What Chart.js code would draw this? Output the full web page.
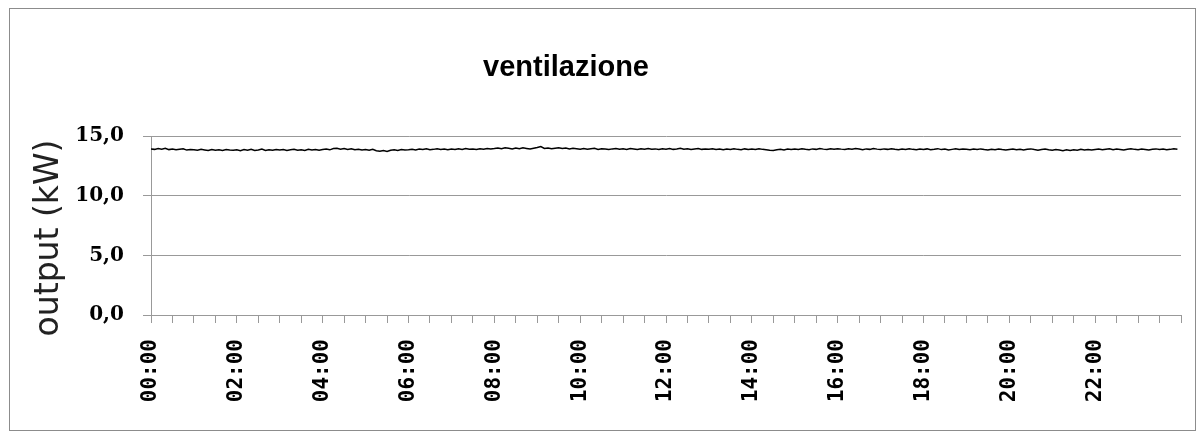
<!DOCTYPE html>
<html>
<head>
<meta charset="utf-8">
<script src="https://cdn.jsdelivr.net/npm/chart.js@4.4.1/dist/chart.umd.min.js"></script>
<style>
  html, body { margin: 0; padding: 0; background: #fff; }
  #wrap { position: relative; width: 1204px; height: 439px; }
  #frame { position: absolute; left: 9px; top: 8px; width: 1185px; height: 421px; border: 1px solid #8c8c8c; pointer-events: none; }
  canvas { position: absolute; left: 0; top: 0; }
</style>
</head>
<body>
<div id="wrap">
  <canvas id="myChart" width="1204" height="439"></canvas>
  <div id="frame"></div>
</div>
<script>
const chartTitle = "ventilazione";
const yTitle = "output (kW)";

// one reading every 5 minutes, one row per hour (kW)
const stepMin = 5;
const output = [
  13.92, 13.88, 13.95, 13.90, 13.97, 13.86, 13.91, 13.84, 13.89, 13.93, 13.82, 13.87,
  13.85, 13.80, 13.88, 13.83, 13.78, 13.86, 13.81, 13.84, 13.79, 13.87, 13.82, 13.80,
  13.84, 13.77, 13.86, 13.81, 13.88, 13.79, 13.83, 13.90, 13.78, 13.85, 13.80, 13.87,
  13.82, 13.86, 13.79, 13.84, 13.89, 13.81, 13.85, 13.78, 13.88, 13.83, 13.87, 13.80,
  13.86, 13.91, 13.84, 13.95, 13.98, 13.90, 13.96, 13.88, 13.93, 13.85, 13.89, 13.82,
  13.86, 13.80, 13.88, 13.76, 13.72, 13.78, 13.70, 13.81, 13.84, 13.79, 13.86, 13.82,
  13.85, 13.89, 13.83, 13.90, 13.86, 13.92, 13.84, 13.88, 13.93, 13.87, 13.91, 13.85,
  13.90, 13.86, 13.93, 13.88, 13.95, 13.89, 13.92, 13.87, 13.94, 13.90, 13.96, 13.91,
  13.95, 14.00, 13.93, 14.02, 13.97, 13.92, 13.99, 13.94, 14.01, 13.96, 13.91, 13.98,
  14.03, 14.12, 13.96, 14.00, 13.93, 13.98, 14.02, 13.95, 13.99, 13.92, 13.97, 13.94,
  13.90, 13.95, 13.89, 13.93, 13.97, 13.88, 13.94, 13.91, 13.86, 13.92, 13.96, 13.90,
  13.93, 13.88, 13.95, 13.91, 13.87, 13.94, 13.90, 13.96, 13.89, 13.92, 13.86, 13.93,
  13.90, 13.95, 13.88, 13.92, 13.97, 13.89, 13.93, 13.86, 13.91, 13.95, 13.88, 13.92,
  13.89, 13.93, 13.86, 13.90, 13.84, 13.91, 13.87, 13.94, 13.88, 13.85, 13.92, 13.87,
  13.90, 13.86, 13.93, 13.88, 13.84, 13.80, 13.78, 13.85, 13.89, 13.83, 13.90, 13.86,
  13.91, 13.87, 13.94, 13.89, 13.85, 13.92, 13.88, 13.95, 13.90, 13.86, 13.93, 13.89,
  13.94, 13.90, 13.87, 13.93, 13.89, 13.96, 13.91, 13.85, 13.92, 13.88, 13.95, 13.90,
  13.86, 13.92, 13.88, 13.94, 13.89, 13.85, 13.91, 13.87, 13.93, 13.88, 13.84, 13.90,
  13.87, 13.92, 13.85, 13.89, 13.94, 13.86, 13.90, 13.83, 13.88, 13.93, 13.86, 13.91,
  13.88, 13.84, 13.90, 13.86, 13.92, 13.87, 13.83, 13.89, 13.85, 13.91, 13.86, 13.82,
  13.87, 13.91, 13.85, 13.89, 13.83, 13.88, 13.92, 13.86, 13.81, 13.87, 13.90, 13.84,
  13.80, 13.86, 13.82, 13.77, 13.84, 13.79, 13.85, 13.81, 13.88, 13.83, 13.87, 13.82,
  13.86, 13.90, 13.84, 13.89, 13.93, 13.85, 13.91, 13.87, 13.83, 13.89, 13.94, 13.88,
  13.85, 13.91, 13.87, 13.83, 13.89, 13.92, 13.86, 13.90, 13.84, 13.88, 13.93, 13.89
];

const xTickLabels = ["00:00", "02:00", "04:00", "06:00", "08:00", "10:00",
                     "12:00", "14:00", "16:00", "18:00", "20:00", "22:00"];
const yTicks = [0, 5, 10, 15];

const gridGray = "#999999";

const points = output.map((v, i) => ({ x: i * stepMin, y: v }));

// title and axis title drawn where the original sits (not centred on the canvas)
const textPlugin = {
  id: "texts",
  afterDraw(chart) {
    const c = chart.ctx;
    c.save();
    c.fillStyle = "#000";
    c.font = "bold 29px 'Liberation Sans', Arial, sans-serif";
    c.textAlign = "center";
    c.textBaseline = "alphabetic";
    c.fillText(chartTitle, 566, 76);

    c.translate(49, 238);
    c.rotate(-Math.PI / 2);
    c.fillStyle = "#222";
    c.font = "33px 'DejaVu Sans', sans-serif";
    c.textBaseline = "middle";
    c.fillText(yTitle, 0, 0);
    c.restore();
  },
};

const ctx = document.getElementById("myChart");

new Chart(ctx, {
  type: "line",
  data: {
    datasets: [
      {
        label: yTitle,
        data: points,
        borderColor: "#000",
        borderWidth: 1.5,
        pointRadius: 0,
        tension: 0,
      },
    ],
  },
  options: {
    responsive: false,
    animation: false,
    layout: {
      padding: { left: 0, top: 136, right: 23, bottom: 0 },
    },
    plugins: {
      legend: { display: false },
      tooltip: { enabled: false },
    },
    scales: {
      x: {
        type: "linear",
        min: 0,
        max: 1440,
        afterFit(scale) {
          scale.height = 124;
          scale.paddingLeft = 0;
          scale.paddingRight = 0;
        },
        grid: {
          drawOnChartArea: false,
          color: gridGray,
          tickLength: 8,
        },
        border: { color: gridGray },
        ticks: {
          stepSize: 30,
          autoSkip: false,
          maxRotation: 90,
          minRotation: 90,
          padding: 16,
          color: "#000",
          font: { family: "'DejaVu Sans Mono', monospace", weight: "bold", size: 21 },
          callback: function (value) {
            if (value % 120 === 0 && value < 1440) {
              return xTickLabels[value / 120];
            }
            return "";
          },
        },
      },
      y: {
        min: 0,
        max: 15,
        afterFit(scale) {
          scale.width = 151;
          scale.paddingTop = 0;
          scale.paddingBottom = 0;
        },
        afterBuildTicks(scale) {
          scale.ticks = yTicks.map((v) => ({ value: v }));
        },
        grid: {
          color: gridGray,
          tickLength: 8,
        },
        border: { color: gridGray },
        ticks: {
          padding: 19,
          color: "#000",
          font: { family: "'DejaVu Serif', serif", weight: "bold", size: 20 },
          callback: function (value) {
            return value.toFixed(1).replace(".", ",");
          },
        },
      },
    },
  },
  plugins: [textPlugin],
});
</script>
</body>
</html>
